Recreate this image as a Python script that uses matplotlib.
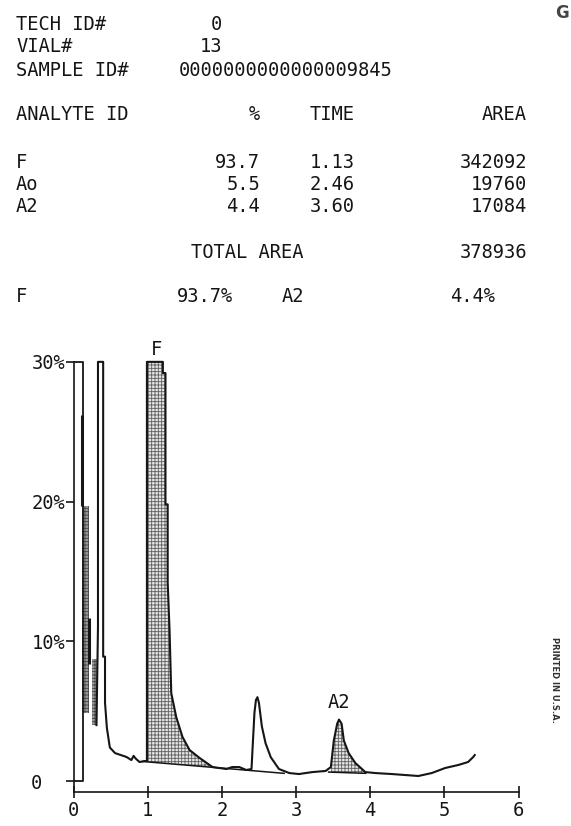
import numpy as np
import matplotlib
matplotlib.use("Agg")
import matplotlib.pyplot as plt

# ---- report header (dot-matrix printout) ----
tech_id, vial, sample_id = "0", "13", "0000000000000009845"
analytes = ["F", "Ao", "A2"]
pct = ["93.7", "5.5", "4.4"]
rtime = ["1.13", "2.46", "3.60"]
area = ["342092", "19760", "17084"]
total_area = "378936"

# ---- chromatogram trace (time in min, signal in %) ----
main_t = [0.31, 0.33, 0.33, 0.40, 0.40, 0.425, 0.425, 0.45, 0.49, 0.56, 0.715, 0.78, 0.81, 0.84,
          0.89, 0.96, 0.99, 0.99, 1.205, 1.205, 1.24, 1.24, 1.27, 1.27, 1.295, 1.318, 1.385, 1.47,
          1.565, 1.70, 1.875, 2.06, 2.14, 2.235, 2.33, 2.40, 2.42, 2.44, 2.46, 2.48, 2.50, 2.54,
          2.59, 2.66, 2.77, 2.91, 3.04, 3.22, 3.40, 3.47, 3.51, 3.555, 3.58, 3.615, 3.645, 3.71,
          3.80, 3.935, 4.07, 4.29, 4.47, 4.65, 4.83, 5.01, 5.19, 5.32, 5.39, 5.41]
main_y = [4.0, 11.0, 30.0, 30.0, 8.9, 8.9, 5.6, 3.8, 2.4, 2.0, 1.72, 1.5, 1.8, 1.6,
          1.36, 1.43, 1.43, 30.0, 30.0, 29.2, 29.2, 19.8, 19.8, 14.2, 10.8, 6.3, 4.58, 3.15,
          2.22, 1.65, 1.0, 0.86, 1.0, 1.0, 0.79, 0.86, 2.9, 4.9, 5.8, 6.0, 5.6, 3.9,
          2.7, 1.7, 0.86, 0.57, 0.5, 0.64, 0.72, 1.0, 2.9, 4.1, 4.4, 4.1, 2.9, 2.0,
          1.29, 0.64, 0.57, 0.5, 0.43, 0.36, 0.57, 0.93, 1.15, 1.36, 1.72, 1.86]
# injection spike (offscale) at the start
spike_t = [0.0, 0.125, 0.125, 0.0]
spike_y = [0.0, 0.0, 30.0, 30.0]
# dense noise bursts near the solvent front, drawn as shaded blocks
burst1_t, burst1_lo, burst1_hi = [0.115, 0.205], [4.9, 4.9], [19.7, 19.7]
burst2_t, burst2_lo, burst2_hi = [0.25, 0.315], [4.0, 4.0], [8.7, 8.7]
burst_lines = [(0.112, 19.7, 26.2), (0.21, 8.4, 11.7)]
# integration baselines
base1_t, base1_y = [0.93, 2.84], [1.40, 0.55]
base2_t, base2_y = [3.44, 3.94], [0.64, 0.55]
f_range = (0.99, 1.95)
a2_range = (3.44, 3.935)

ink = "#151515"
mono = "DejaVu Sans Mono"
fs = 13.5
W, H = 571, 826

fig = plt.figure(figsize=(W / 100, H / 100), dpi=100)
fig.patch.set_facecolor("white")
plt.rcParams["hatch.linewidth"] = 0.6


def put(x, y, s, ha="left", **kw):
    fig.text(x / W, 1 - y / H, s, ha=ha, va="center", family=mono, fontsize=fs, color=ink, **kw)


put(16, 24, "TECH ID#")
put(222, 24, tech_id, ha="right")
put(16, 47, "VIAL#")
put(222, 47, vial, ha="right")
put(16, 70, "SAMPLE ID#")
put(286, 70, sample_id, ha="center")

put(16, 115, "ANALYTE ID")
put(260, 115, "%", ha="right")
put(310, 115, "TIME")
put(527, 115, "AREA", ha="right")
for i, (a, p, t, ar) in enumerate(zip(analytes, pct, rtime, area)):
    y = 162 + 22.5 * i
    put(16, y, a)
    put(260, y, p, ha="right")
    put(310, y, t)
    put(527, y, ar, ha="right")

put(247, 253, "TOTAL AREA", ha="center")
put(527, 253, total_area, ha="right")
put(16, 297, analytes[0])
put(233, 297, pct[0] + "%", ha="right")
put(282, 297, analytes[2])
put(450, 297, pct[2] + "%")

fig.text(562 / W, 1 - 13 / H, "G", ha="center", va="center", fontsize=12, fontweight="bold", color="#444444")
fig.text(555 / W, 1 - 680 / H, "PRINTED IN U.S.A.", rotation=270, ha="center", va="center",
         fontsize=6, fontweight="bold", color="#333333")

# ---- chromatogram axes ----
ax = fig.add_axes([73.5 / W, (H - 792.2) / H, 445 / W, (792.2 - 340.9) / H])
ax.set_xlim(0, 6)
ax.set_ylim(-0.8, 31.5)
ax.set_facecolor("none")
for s in ("top", "right"):
    ax.spines[s].set_visible(False)
ax.spines["left"].set_bounds(-0.8, 30)
for s in ("left", "bottom"):
    ax.spines[s].set_color(ink)
    ax.spines[s].set_linewidth(1.2)

ax.set_xticks(range(7))
ax.set_xticklabels([str(i) for i in range(7)], family=mono, fontsize=fs, color=ink)
ax.tick_params(axis="x", direction="inout", length=8, width=1.2, color=ink, pad=2)
ax.set_yticks([0, 10, 20, 30])
ax.set_yticklabels(["0  ", "10%", "20%", "30%"], family=mono, fontsize=fs, color=ink)
ax.tick_params(axis="y", direction="out", length=6, width=1.2, color=ink, pad=0)

# shaded integrated peaks
mt, my = np.array(main_t), np.array(main_y)
sel = (mt >= f_range[0]) & (mt <= f_range[1])
ax.fill_between(mt[sel], my[sel], np.interp(mt[sel], base1_t, base1_y),
                facecolor="#e4e4e4", edgecolor="#606060", hatch="+++++", lw=0)
sel = (mt >= a2_range[0]) & (mt <= a2_range[1])
ax.fill_between(mt[sel], my[sel], np.interp(mt[sel], base2_t, base2_y),
                facecolor="#e4e4e4", edgecolor="#606060", hatch="+++++", lw=0)

# noise bursts
for bt, lo, hi in [(burst1_t, burst1_lo, burst1_hi), (burst2_t, burst2_lo, burst2_hi)]:
    ax.fill_between(bt, lo, hi, facecolor="#9c9c9c", edgecolor="#444444", hatch="+++++", lw=0)
for x, y0, y1 in burst_lines:
    ax.plot([x, x], [y0, y1], color=ink, lw=2.2, solid_capstyle="butt")

ax.plot(spike_t, spike_y, color=ink, lw=1.3)
ax.plot(main_t, main_y, color=ink, lw=1.5, solid_joinstyle="round")
ax.plot(base1_t, base1_y, color=ink, lw=1.1)
ax.plot(base2_t, base2_y, color=ink, lw=1.1)

ax.text(1.12, 30.9, analytes[0], ha="center", va="center", family=mono, fontsize=fs, color=ink)
ax.text(3.58, 5.6, analytes[2], ha="center", va="center", family=mono, fontsize=fs, color=ink)

fig.savefig("out.png", dpi=100, facecolor="white")
